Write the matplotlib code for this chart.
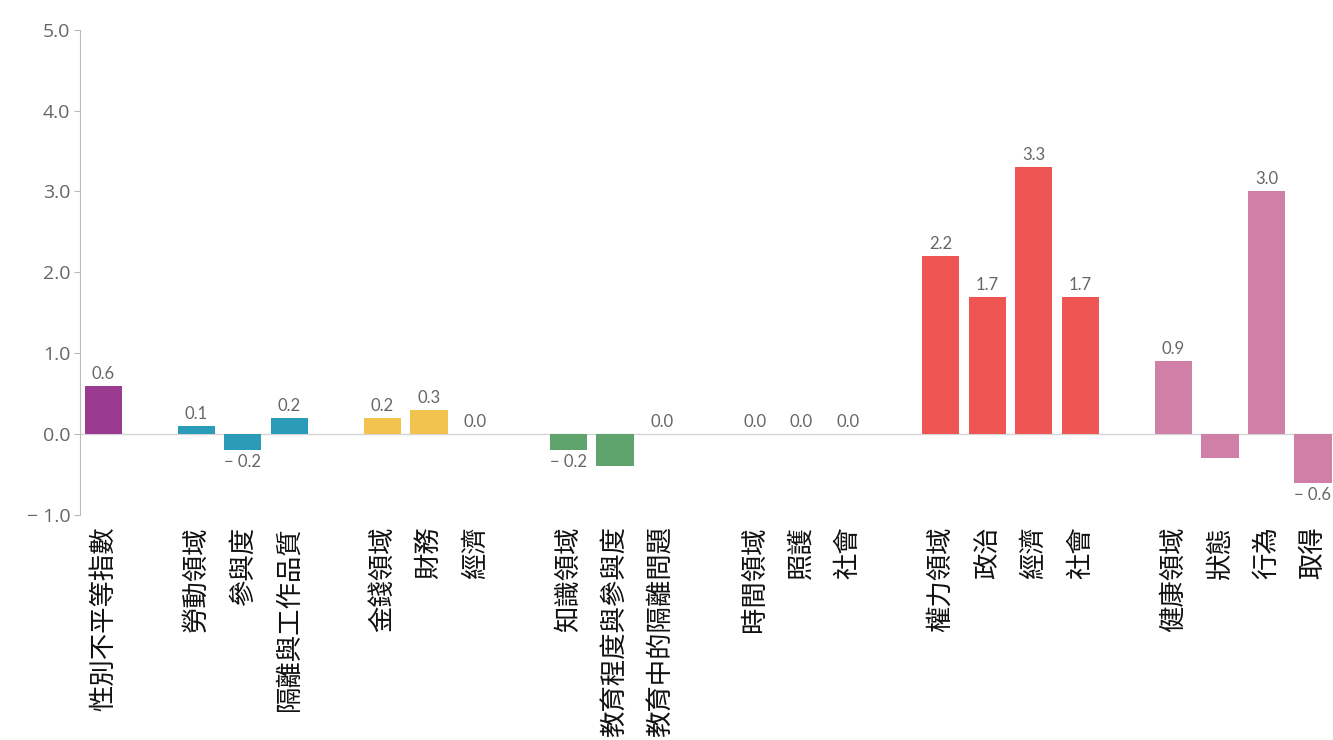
import matplotlib.pyplot as plt
import numpy as np

plt.rcParams['font.family'] = ['Noto Sans CJK TC', 'DejaVu Sans']

labels = ['性別不平等指數',
          '勞動領域', '參與度', '隔離與工作品質',
          '金錢領域', '財務', '經濟',
          '知識領域', '教育程度與參與度', '教育中的隔離問題',
          '時間領域', '照護', '社會',
          '權力領域', '政治', '經濟', '社會',
          '健康領域', '狀態', '行為', '取得']
values = [0.6,
          0.1, -0.2, 0.2,
          0.2, 0.3, 0.0,
          -0.2, -0.4, 0.0,
          0.0, 0.0, 0.0,
          2.2, 1.7, 3.3, 1.7,
          0.9, -0.3, 3.0, -0.6]
# which bars carry a value label in the original
show_label = [True,
              True, True, True,
              True, True, True,
              True, False, True,
              True, True, True,
              True, True, True, True,
              True, False, True, True]
group_sizes = [1, 3, 3, 3, 3, 4, 4]
group_colors = ['#9a3b91', '#2b9cb8', '#f2c24f', '#5ea46c', '#9e9e9e', '#ef5552', '#d07fa6']

# x positions: one empty slot between groups
xs, colors = [], []
pos = 0
for size, col in zip(group_sizes, group_colors):
    for k in range(size):
        xs.append(pos)
        colors.append(col)
        pos += 1
    pos += 1
xs = np.array(xs)

fig = plt.figure(figsize=(13.33, 7.4), dpi=100)
ax = fig.add_axes([0.06, 0.304, 0.94, 0.656])

ax.axhline(0, color='#d5d5d5', lw=1, zorder=1)
ax.bar(xs, values, width=0.8, color=colors, zorder=2)

for x, v, s in zip(xs, values, show_label):
    if not s:
        continue
    txt = f'{v:.1f}'.replace('-', '\u2212 ')
    if v < 0:
        ax.text(x, v - 0.05, txt, ha='center', va='top', fontsize=12,
                color='#666666', family='Lato')
    else:
        ax.text(x, v + 0.05, txt, ha='center', va='bottom', fontsize=12,
                color='#666666', family='Lato')

ax.set_xlim(-0.5, 26.43)
ax.set_ylim(-1, 5)
ticks = np.arange(-1, 5.1, 1)
ax.set_yticks(ticks)
ax.set_yticklabels([f'{t:.1f}'.replace('-', '\u2212 ') for t in ticks],
                   family='Open Sans', fontsize=14, color='#666666')
ax.tick_params(axis='y', length=4, color='#bbbbbb', pad=3)

ax.set_xticks(xs)
ax.set_xticklabels(labels, rotation=90, fontsize=19, color='#111111',
                   va='top', ha='center')
ax.tick_params(axis='x', length=0, pad=8)

for s in ['top', 'right', 'bottom']:
    ax.spines[s].set_visible(False)
ax.spines['left'].set_color('#bbbbbb')

fig.savefig('out.png', dpi=100)
